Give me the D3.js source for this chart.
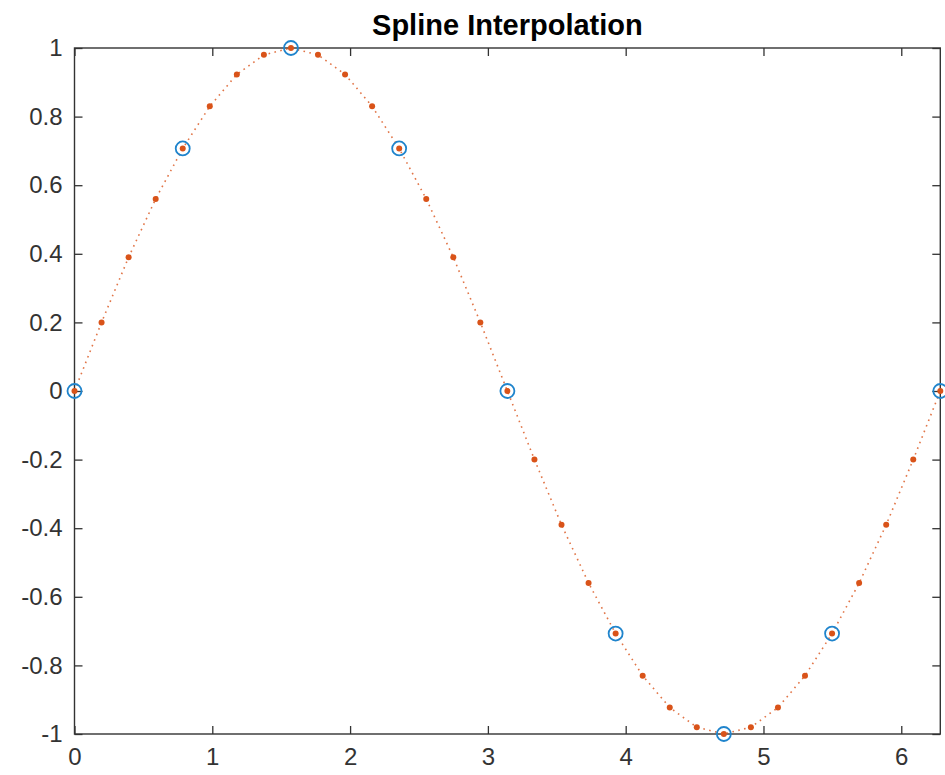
<!DOCTYPE html>
<html>
<head>
<meta charset="utf-8">
<script src="https://cdn.jsdelivr.net/npm/d3@7"></script>
<style>
	body { margin: 0; background: #fff; }
	svg { display: block; }
	.tick text { font-family: "Liberation Sans", Arial, sans-serif; fill: #333; }
</style>
</head>
<body>
<svg width="945" height="775"></svg>
<script>
// sample points (blue circles)
var knotX = [0, 0.7854, 1.5708, 2.3562, 3.1416, 3.9270, 4.7124, 5.4978, 6.2832];
var knotY = [0, 0.7071, 1, 0.7071, 0, -0.7071, -1, -0.7071, 0];

// interpolated points (orange dots)
var queryX = [0, 0.1963, 0.3927, 0.5890, 0.7854, 0.9817, 1.1781, 1.3744, 1.5708,
	1.7671, 1.9635, 2.1598, 2.3562, 2.5525, 2.7489, 2.9452, 3.1416,
	3.3379, 3.5343, 3.7306, 3.9270, 4.1233, 4.3197, 4.5160, 4.7124,
	4.9087, 5.1051, 5.3014, 5.4978, 5.6941, 5.8905, 6.0868, 6.2832];
var queryY = [0, 0.20, 0.39, 0.56, 0.7071, 0.83, 0.923, 0.98, 1,
	0.98, 0.923, 0.83, 0.7071, 0.56, 0.39, 0.20, 0,
	-0.20, -0.39, -0.56, -0.7071, -0.83, -0.923, -0.98, -1,
	-0.98, -0.923, -0.83, -0.7071, -0.56, -0.39, -0.20, 0];

var xTicks = [0, 1, 2, 3, 4, 5, 6];
var yTicks = [-1, -0.8, -0.6, -0.4, -0.2, 0, 0.2, 0.4, 0.6, 0.8, 1];
var title = "Spline Interpolation";

var margin = {top: 48, right: 4.7, bottom: 41, left: 74.5};
var width = 945 - margin.left - margin.right;
var height = 775 - margin.top - margin.bottom;
var axisColor = "#333";
var fontSize = 24;

var svg = d3.select("svg");
var g = svg.append("g").attr("transform", "translate(" + margin.left + "," + margin.top + ")");

var x = d3.scaleLinear().domain([0, 6.2832]).range([0, width]);
var y = d3.scaleLinear().domain([-1, 1]).range([height, 0]);
var fmt = function(d) { return String(+d.toFixed(1)); };

function styleAxis(sel, labels) {
	sel.select(".domain").remove();
	sel.selectAll(".tick line").attr("stroke", axisColor).attr("stroke-width", 1.3);
	if (labels) {
		sel.selectAll(".tick text").style("font-size", fontSize + "px").attr("fill", axisColor);
	} else {
		sel.selectAll(".tick text").remove();
	}
}

g.append("g").attr("transform", "translate(0," + height + ")")
	.call(d3.axisBottom(x).tickValues(xTicks).tickFormat(fmt).tickSizeInner(-8).tickSizeOuter(0).tickPadding(14))
	.call(styleAxis, true);
g.append("g")
	.call(d3.axisTop(x).tickValues(xTicks).tickSizeInner(-8).tickSizeOuter(0))
	.call(styleAxis, false);
g.append("g")
	.call(d3.axisLeft(y).tickValues(yTicks).tickFormat(fmt).tickSizeInner(-8).tickSizeOuter(0).tickPadding(12))
	.call(styleAxis, true);
g.append("g").attr("transform", "translate(" + width + ",0)")
	.call(d3.axisRight(y).tickValues(yTicks).tickSizeInner(-8).tickSizeOuter(0))
	.call(styleAxis, false);

g.append("rect").attr("width", width).attr("height", height)
	.attr("fill", "none").attr("stroke", axisColor).attr("stroke-width", 1.4);

var pts = queryX.map(function(d, i) { return [d, queryY[i]]; });
var line = d3.line().x(function(d) { return x(d[0]); }).y(function(d) { return y(d[1]); });

g.append("path").datum(pts).attr("d", line)
	.attr("fill", "none").attr("stroke", "#D95319").attr("stroke-opacity", 0.8)
	.attr("stroke-width", 1.6).attr("stroke-dasharray", "1.6,4.4");

g.selectAll("circle.q").data(pts).enter().append("circle").attr("class", "q")
	.attr("cx", function(d) { return x(d[0]); }).attr("cy", function(d) { return y(d[1]); })
	.attr("r", 3).attr("fill", "#D95319");

g.selectAll("circle.k").data(knotX).enter().append("circle").attr("class", "k")
	.attr("cx", function(d) { return x(d); }).attr("cy", function(d, i) { return y(knotY[i]); })
	.attr("r", 7).attr("fill", "none").attr("stroke", "#1f84cc").attr("stroke-width", 1.8);

svg.append("text").attr("x", margin.left + width / 2).attr("y", 35)
	.attr("text-anchor", "middle")
	.style("font-family", "'Liberation Sans', Arial, sans-serif")
	.style("font-weight", "bold").style("font-size", "29px").attr("fill", "#000")
	.text(title);
</script>
</body>
</html>
